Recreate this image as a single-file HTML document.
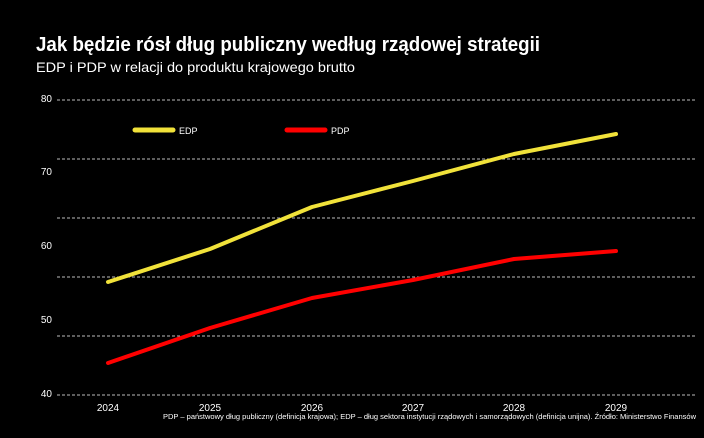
<!DOCTYPE html>
<html><head><meta charset="utf-8"><style>
body{margin:0;background:#000;width:704px;height:433px;overflow:hidden;font-family:"Liberation Sans",sans-serif}
</style></head><body>
<svg width="704" height="433" xmlns="http://www.w3.org/2000/svg">
<rect width="704" height="433" fill="#000"/>
<text x="36" y="51" fill="#fff" font-size="20" font-weight="bold" textLength="504" lengthAdjust="spacingAndGlyphs">Jak będzie rósł dług publiczny według rządowej strategii</text>
<text x="36" y="72" fill="#fff" font-size="14" textLength="319" lengthAdjust="spacingAndGlyphs">EDP i PDP w relacji do produktu krajowego brutto</text>
<g stroke="#bbb" stroke-width="1" stroke-dasharray="3,2">
<line x1="57" y1="100" x2="696" y2="100"/><line x1="57" y1="159" x2="696" y2="159"/>
<line x1="57" y1="218" x2="696" y2="218"/><line x1="57" y1="277" x2="696" y2="277"/>
<line x1="57" y1="336" x2="696" y2="336"/><line x1="57" y1="395" x2="696" y2="395"/>
</g>
<g fill="#fff" font-size="10" text-anchor="end">
<text x="52" y="102">80</text><text x="52" y="175">70</text><text x="52" y="249">60</text><text x="52" y="323">50</text><text x="52" y="397">40</text>
</g>
<g fill="#fff" font-size="10" text-anchor="middle">
<text x="108" y="411">2024</text><text x="210" y="411">2025</text><text x="312" y="411">2026</text><text x="413" y="411">2027</text><text x="514" y="411">2028</text><text x="616" y="411">2029</text>
</g>
<text x="163" y="419" fill="#fff" font-size="7.5" textLength="533" lengthAdjust="spacingAndGlyphs">PDP – państwowy dług publiczny (definicja krajowa); EDP – dług sektora instytucji rządowych i samorządowych (definicja unijna). Źródło: Ministerstwo Finansów</text>
<line x1="135" y1="130" x2="173" y2="130" stroke="#f1e23a" stroke-width="5" stroke-linecap="round"/>
<text x="179" y="134" fill="#fff" font-size="9">EDP</text>
<line x1="287" y1="130" x2="325" y2="130" stroke="#f00" stroke-width="5" stroke-linecap="round"/>
<text x="331" y="134" fill="#fff" font-size="9">PDP</text>
<polyline points="108,282 210,249 312,207 413,181 514,154 616,134" fill="none" stroke="#f1e23a" stroke-width="4" stroke-linecap="round" stroke-linejoin="round"/>
<polyline points="108,363 210,328 312,298 413,280 514,259 616,251" fill="none" stroke="#f00" stroke-width="4" stroke-linecap="round" stroke-linejoin="round"/>
</svg>
</body></html>
